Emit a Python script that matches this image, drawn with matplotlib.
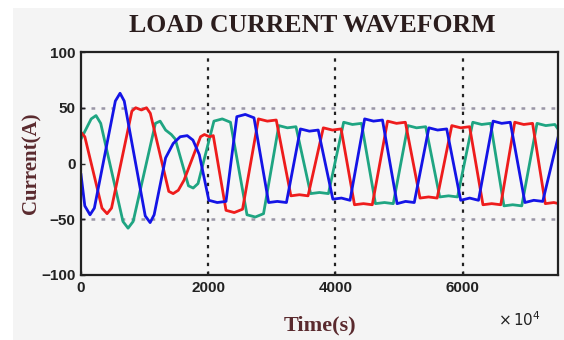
import matplotlib
matplotlib.use('Agg')
import matplotlib.pyplot as plt
from matplotlib.patches import Rectangle

# traced vertices of the three phase currents (time, current)
blue_t = [0, 60, 142, 210, 540, 614, 680, 1010, 1087, 1150, 1330, 1450, 1560, 1670, 1760, 1860,
          2010, 2142, 2280, 2450, 2583, 2720, 2950, 3087, 3230, 3450, 3591, 3730,
          3960, 4095, 4230, 4460, 4599, 4740, 4970, 5103, 5240, 5470, 5607, 5750,
          5970, 6111, 6250, 6480, 6615, 6750, 6980, 7119, 7260, 7512]
blue_i = [-10, -38, -46, -40, 56, 63, 56, -47, -53, -46, 5, 18, 24, 25, 21, 8,
          -33, -35, -34, 42, 44, 41, -35, -34, -35, 31, 29, 30,
          -32, -31, -33, 40, 38, 39, -36, -34, -35, 32, 30, 31,
          -33, -31, -33, 38, 36, 37, -35, -33, -34, 26]

red_t = [0, 60, 330, 410, 480, 800, 860, 950, 1030, 1090, 1380, 1449, 1530, 1620,
         1880, 1940, 2020, 2080, 2280, 2410, 2540, 2790, 2930, 3070, 3300, 3434, 3570,
         3810, 3953, 4090, 4300, 4441, 4580, 4820, 4961, 5100, 5330, 5465, 5600,
         5830, 5969, 6110, 6320, 6458, 6600, 6820, 6962, 7100, 7300, 7434, 7512]
red_i = [28, 24, -40, -45, -40, 47, 50, 48, 50, 45, -25, -27, -24, -15,
         24, 26, 24, 25, -42, -44, -41, 40, 38, 39, -29, -28, -29,
         32, 30, 31, -37, -36, -37, 38, 36, 37, -31, -30, -31,
         34, 32, 33, -37, -36, -37, 37, 35, 36, -36, -35, -36]

green_t = [0, 160, 236, 310, 660, 740, 820, 1170, 1244, 1330, 1420, 1481, 1690, 1764, 1840,
           2090, 2221, 2350, 2610, 2741, 2870, 3110, 3245, 3380, 3610, 3749, 3890,
           4130, 4268, 4410, 4630, 4772, 4910, 5140, 5276, 5420, 5640, 5780, 5920,
           6160, 6300, 6440, 6650, 6788, 6930, 7170, 7308, 7450, 7512]
green_i = [22, 40, 43, 36, -52, -58, -52, 36, 38, 30, 26, 22, -20, -22, -18,
           38, 40, 37, -46, -48, -45, 34, 32, 33, -27, -26, -27,
           37, 35, 36, -36, -35, -36, 34, 32, 33, -30, -29, -30,
           37, 35, 36, -38, -37, -38, 36, 34, 35, 30]

x_ticks = [0, 2000, 4000, 6000]
y_ticks = [-100, -50, 0, 50, 100]

fig = plt.figure(figsize=(5.64, 3.40), dpi=100)
fig.patch.set_facecolor('white')
fig.patches.append(Rectangle((13 / 564, 0), 1, 1 - 8 / 340, transform=fig.transFigure,
                             facecolor='#f4f4f4', edgecolor='none', zorder=-10))

ax = fig.add_axes([81 / 564, 1 - 275 / 340, 477 / 564, 223 / 340])
ax.set_facecolor('#f6f6f6')

ax.plot(green_t, green_i, color='#1fa582', lw=2.0)
ax.plot(red_t, red_i, color='#ee1c1c', lw=2.0)
ax.plot(blue_t, blue_i, color='#1414e6', lw=2.0)

ax.set_xlim(0, 7500)
ax.set_ylim(-100, 100)
ax.set_xticks(x_ticks)
ax.set_yticks(y_ticks)
ax.tick_params(direction='in', length=3, width=1, pad=4, labelsize=11, colors='#222222')
for lab in ax.get_xticklabels() + ax.get_yticklabels():
    lab.set_fontfamily('Liberation Sans')
    lab.set_fontweight('bold')

for x in x_ticks[1:]:
    ax.axvline(x, color='#222222', ls=(0, (1.5, 2.5)), lw=1.6, zorder=0)
for y in [-50, 50]:
    ax.axhline(y, color='#9a96a6', ls=(0, (1.5, 2.5)), lw=1.8, zorder=0)

for sp in ax.spines.values():
    sp.set_linewidth(1.6)
    sp.set_color('#222222')

fig.text(0.553, 0.925, 'LOAD CURRENT WAVEFORM', ha='center', va='center',
         fontsize=18.5, fontweight='bold', family='Liberation Serif', color='#2b1d1d')
ax.set_ylabel('Current(A)', fontsize=15, fontweight='bold', family='Liberation Serif',
              color='#5a2a2e', labelpad=0)
fig.text(0.567, 0.043, 'Time(s)', ha='center', va='center', fontsize=16,
         fontweight='bold', family='Liberation Serif', color='#5a2a2e')
fig.text(0.883, 0.06, r'$\times\,10^{4}$', ha='left', va='center', fontsize=11,
         color='#222222')

plt.savefig('out.png', dpi=100, facecolor=fig.get_facecolor())
